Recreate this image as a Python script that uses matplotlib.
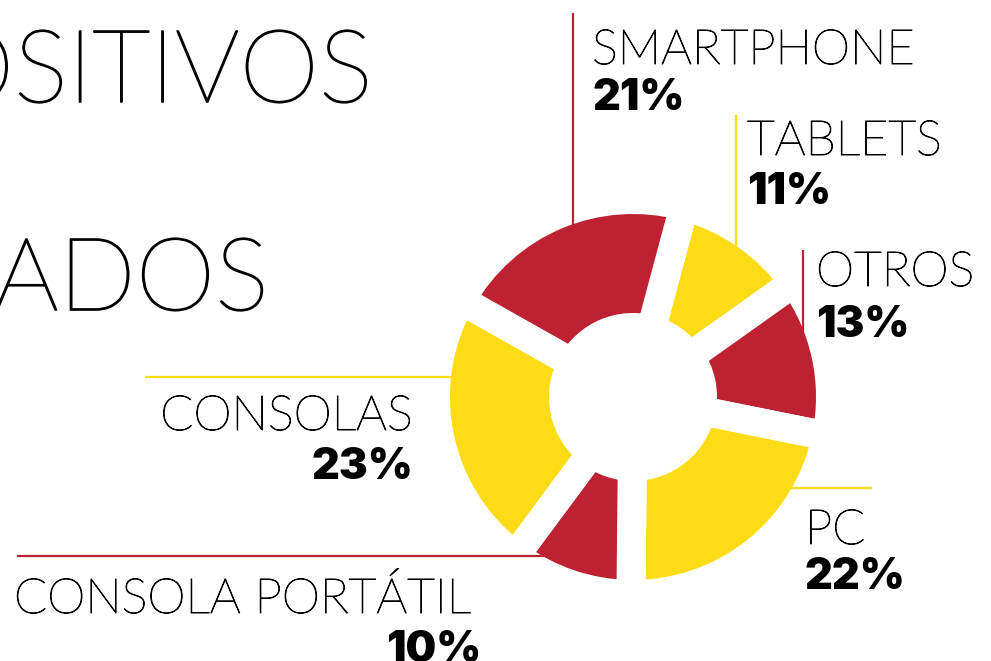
import numpy as np
import matplotlib
matplotlib.use("Agg")
import matplotlib.pyplot as plt
import matplotlib.patheffects as pe

# datos
categorias = ["TABLETS", "OTROS", "PC", "CONSOLA PORTÁTIL", "CONSOLAS", "SMARTPHONE"]
porcentajes = [11, 13, 22, 10, 23, 21]
colores = ["#FDDC15", "#BE2131", "#FDDC15", "#BE2131", "#FDDC15", "#BE2131"]
titulo = ["OSITIVOS", "ADOS"]

# lienzo en pixeles
W, H = 991, 661
ROJO, AMARILLO = "#BE2131", "#FDDC15"
cx, cy = 633, 397          # centro del donut (px, y hacia abajo)
r_ext, r_int = 183, 84     # radios visibles
hueco = 29                 # ancho del hueco blanco entre porciones (px)

fig = plt.figure(figsize=(W / 100, H / 100), dpi=100)
ax = fig.add_axes([0, 0, 1, 1])

lw_pt = hueco * 72 / 100
ax.pie(porcentajes, colors=colores, startangle=75, counterclock=False,
       center=(cx, H - cy), radius=r_ext + hueco / 2,
       wedgeprops=dict(width=(r_ext - r_int) + hueco, edgecolor="white",
                       linewidth=lw_pt, joinstyle="miter"))
ax.set_xlim(0, W)
ax.set_ylim(0, H)
ax.set_aspect("equal")
ax.axis("off")

# lineas guia: (inicio x, inicio y, vertical?, color)
r_fin = r_ext - 8
guias = {
    "SMARTPHONE": (573, 13, True, ROJO),
    "TABLETS": (736, 115, True, AMARILLO),
    "OTROS": (803, 250, True, ROJO),
    "PC": (872, 488, False, AMARILLO),
    "CONSOLAS": (145, 377, False, AMARILLO),
    "CONSOLA PORTÁTIL": (17, 556, False, ROJO),
}
for nombre, (x0, y0, vertical, c) in guias.items():
    if vertical:
        d = np.sqrt(r_fin**2 - (x0 - cx) ** 2)
        x1, y1 = x0, cy - d
    else:
        d = np.sqrt(r_fin**2 - (y0 - cy) ** 2)
        x1, y1 = (cx + d if x0 > cx else cx - d), y0
    ax.plot([x0, x1], [H - y0, H - y1], color=c, lw=1.6, zorder=5,
            solid_capstyle="butt")

# etiquetas: (x, linea base nombre, linea base %, alineacion)
etiquetas = {
    "SMARTPHONE": (592, 64, 110, "left"),
    "TABLETS": (747, 155, 204, "left"),
    "OTROS": (816, 286, 337, "left"),
    "PC": (805, 544, 589, "left"),
    "CONSOLAS": (413, 430, 479, "right"),
    "CONSOLA PORTÁTIL": (14, 613, 662, "left"),
}
fam = ["Lato", "DejaVu Sans"]
fam_pct = ["Inter", "DejaVu Sans"]
grueso = [pe.withStroke(linewidth=0.7, foreground="black")]
for nombre, pct in zip(categorias, porcentajes):
    x, yb1, yb2, ha = etiquetas[nombre]
    ax.text(x, H - yb1, nombre, fontsize=35, family=fam, weight="light",
            ha=ha, va="baseline", color="black", zorder=6, path_effects=grueso)
    xp = 481 if nombre == "CONSOLA PORTÁTIL" else x
    hp = "right" if nombre == "CONSOLA PORTÁTIL" else ha
    ax.text(xp, H - yb2, f"{pct}%", fontsize=31, family=fam_pct, weight="black",
            ha=hp, va="baseline", color="black", zorder=6)

# titulo recortado a la izquierda
grueso_t = [pe.withStroke(linewidth=1.2, foreground="black")]
ax.text(373, H - 102, titulo[0], fontsize=73, family=fam, weight="light",
        ha="right", va="baseline", color="black", path_effects=grueso_t)
ax.text(269, H - 310, titulo[1], fontsize=73, family=fam, weight="light",
        ha="right", va="baseline", color="black", path_effects=grueso_t)

fig.savefig("out.png", dpi=100)
